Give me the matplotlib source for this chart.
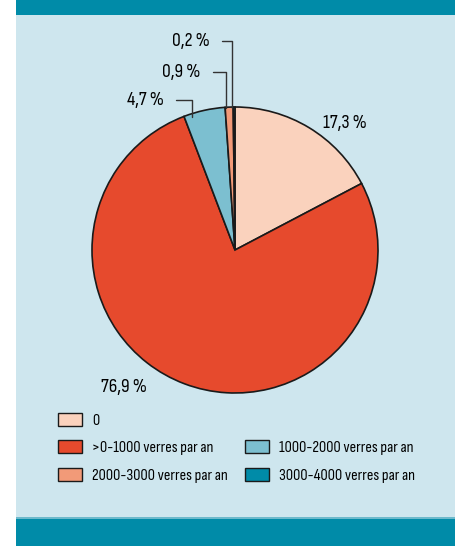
import matplotlib.pyplot as plt
import numpy as np
from matplotlib.patches import Patch, Rectangle

plt.rcParams['font.family'] = ['Sofia Sans Condensed', 'DejaVu Sans']

# === Data ===
categories = ['0', '>0-1000 verres par an', '1000-2000 verres par an',
              '2000-3000 verres par an', '3000-4000 verres par an']
shares = [17.3, 76.9, 4.7, 0.9, 0.2]
colors = ['#FAD2BD', '#E64A2D', '#7CBFD0', '#F29A78', '#008BA8']
pct_labels = ['17,3 %', '76,9 %', '4,7 %', '0,9 %', '0,2 %']

bg = '#CEE6EE'
band = '#008BA8'

W, H = 456, 546
fig = plt.figure(figsize=(W / 100, H / 100), dpi=100)
fig.patch.set_facecolor('white')

# background panel in pixel coords
bgax = fig.add_axes([0, 0, 1, 1])
bgax.set_xlim(0, W)
bgax.set_ylim(H, 0)
bgax.axis('off')
bgax.add_patch(Rectangle((16, 0), W - 16, H, color=bg, lw=0))
bgax.add_patch(Rectangle((16, 0), W - 16, 15, color=band, lw=0))
bgax.add_patch(Rectangle((16, 517), W - 16, 1.5, color='#6DB9CB', lw=0))
bgax.add_patch(Rectangle((16, 518.5), W - 16, H - 518.5, color=band, lw=0))

# pie axes
cx, cy, r = 235, 250, 143
ax = fig.add_axes([(cx - r) / W, (H - cy - r) / H, 2 * r / W, 2 * r / H])
ax.set_facecolor('none')
wedges, _ = ax.pie(shares, colors=colors, startangle=90, counterclock=False,
                   radius=1, wedgeprops=dict(edgecolor='#1a1a1a', linewidth=1.2))
ax.set_xlim(-1, 1)
ax.set_ylim(-1, 1)
ax.axis('off')

fs = 14
ax.text(0.77, 0.89, pct_labels[0], fontsize=fs, ha='center', va='center')
ax.text(-0.78, -0.96, pct_labels[1], fontsize=fs, ha='center', va='center')

# small slices with leader lines
small = [(2, (-0.50, 1.05), -0.30, 0.93),
         (3, (-0.24, 1.245), -0.06, 0.99),
         (4, (-0.175, 1.46), -0.02, 0.99)]
for i, txt_xy, px, py in small:
    ax.annotate(pct_labels[i], xy=(px, py), xytext=txt_xy, fontsize=fs,
                ha='right', va='center', annotation_clip=False,
                arrowprops=dict(arrowstyle='-', color='#333333', lw=1.0,
                                relpos=(1, 0.5), shrinkA=7, shrinkB=0,
                                connectionstyle='angle,angleA=0,angleB=90,rad=0'))

# legend
handles = [Patch(facecolor=c, edgecolor='#1a1a1a', linewidth=1.0) for c in colors]
blank = Patch(visible=False)
order = [handles[0], handles[1], handles[3], blank, handles[2], handles[4]]
labels = [categories[0], categories[1], categories[3], '', categories[2], categories[4]]
fig.legend(order, labels, loc='upper left', bbox_to_anchor=(58 / W, 1 - 413 / H),
           ncol=2, frameon=False, fontsize=11.7, handlelength=1.48, handleheight=0.86,
           handletextpad=0.6, labelspacing=0.75, columnspacing=1.1, borderpad=0,
           borderaxespad=0)

fig.savefig('out.png', dpi=100, facecolor=fig.get_facecolor())
